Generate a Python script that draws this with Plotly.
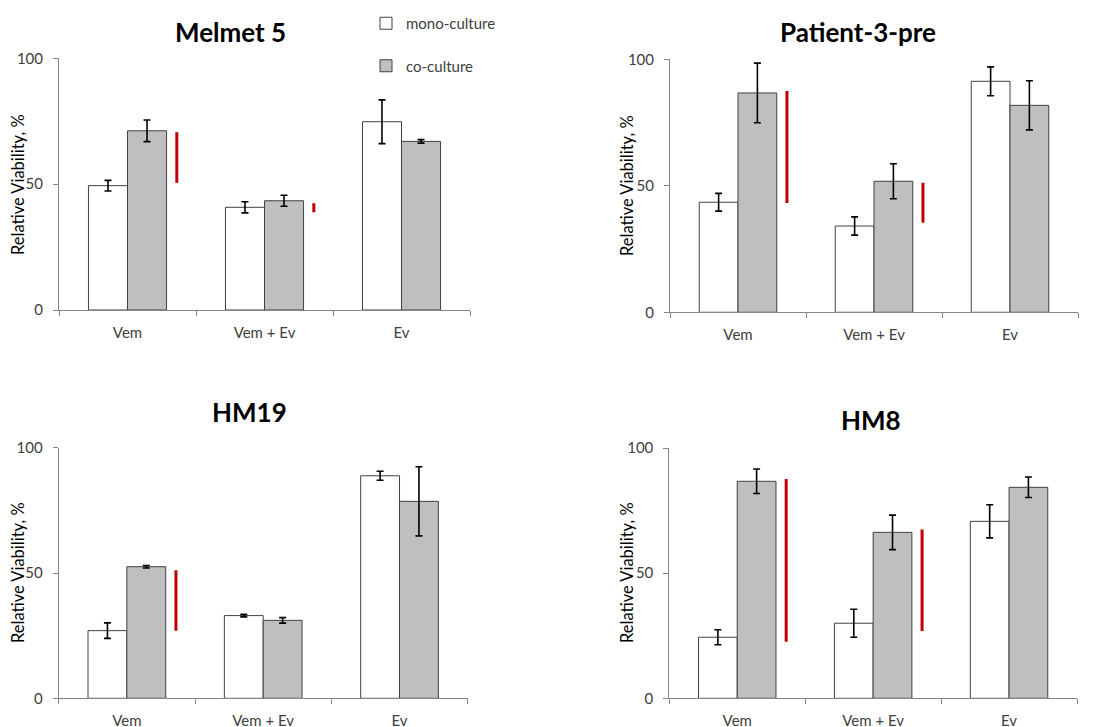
import plotly.graph_objects as go

# Treatments on the x axis
treatments = ["Vem", "Vem + Ev", "Ev"]

# Cell lines, one panel each
panel_titles = ["Melmet 5", "Patient-3-pre", "HM19", "HM8"]

# Relative viability (%) and error (±) per treatment
melmet5_mono = [49.4, 40.8, 74.8]
melmet5_mono_err = [2.1, 2.2, 8.7]
melmet5_co = [71.2, 43.4, 67.0]
melmet5_co_err = [4.3, 2.2, 0.7]
melmet5_shift = [(50.6, 70.6), (38.8, 42.4), None]

patient3_mono = [43.5, 34.1, 91.3]
patient3_mono_err = [3.5, 3.6, 5.7]
patient3_co = [86.7, 51.8, 81.8]
patient3_co_err = [11.8, 6.9, 9.7]
patient3_shift = [(43.2, 87.5), (35.4, 51.2), None]

hm19_mono = [27.0, 33.0, 88.8]
hm19_mono_err = [3.1, 0.5, 1.8]
hm19_co = [52.5, 31.1, 78.6]
hm19_co_err = [0.5, 1.1, 13.8]
hm19_shift = [(27.0, 51.1), None, None]

hm8_mono = [24.4, 30.0, 70.7]
hm8_mono_err = [3.0, 5.6, 6.6]
hm8_co = [86.7, 66.3, 84.3]
hm8_co_err = [4.9, 6.9, 4.1]
hm8_shift = [(22.6, 87.6), (26.9, 67.4), None]

panels = [
    (melmet5_mono, melmet5_mono_err, melmet5_co, melmet5_co_err, melmet5_shift),
    (patient3_mono, patient3_mono_err, patient3_co, patient3_co_err, patient3_shift),
    (hm19_mono, hm19_mono_err, hm19_co, hm19_co_err, hm19_shift),
    (hm8_mono, hm8_mono_err, hm8_co, hm8_co_err, hm8_shift),
]

W, H = 1094, 727


def fx(px):
    return px / W


def fy(py):
    return 1 - py / H


# Plot-area boxes in pixels: (left, right, top, bottom)
boxes = [
    (59, 470, 58.3, 310),
    (670, 1078, 59.3, 312.3),
    (58.7, 467.7, 447.7, 698.3),
    (669.3, 1077, 448, 698.3),
]
title_pos = [(230, 32), (858, 32), (249, 412), (871, 420)]
ytitle_pos = [(18, 185), (627, 186), (18, 573), (627, 573)]

AXIS_GREY = "#868686"
TEXT_GREY = "#404040"
FONT = "Lato"

fig = go.Figure()
x_idx = [0, 1, 2]
shift_dx = 0.36

for k, (mono, mono_err, co, co_err, shift) in enumerate(panels):
    ax = "" if k == 0 else str(k + 1)
    xa, ya = "x" + ax, "y" + ax
    show = k == 0
    fig.add_trace(go.Bar(
        x=x_idx, y=mono, name="mono-culture", xaxis=xa, yaxis=ya,
        marker=dict(color="white", line=dict(color=TEXT_GREY, width=1)),
        error_y=dict(type="data", array=mono_err, color="black", thickness=1.6, width=3.5),
        showlegend=show, legendgroup="mono", offsetgroup="mono",
    ))
    fig.add_trace(go.Bar(
        x=x_idx, y=co, name="co-culture", xaxis=xa, yaxis=ya,
        marker=dict(color="#BFBFBF", line=dict(color=TEXT_GREY, width=1)),
        error_y=dict(type="data", array=co_err, color="black", thickness=1.6, width=3.5),
        showlegend=show, legendgroup="co", offsetgroup="co",
    ))
    # red markers showing the shift between culture conditions
    sx, sy = [], []
    for i, span in enumerate(shift):
        if span is None:
            continue
        sx += [i + shift_dx, i + shift_dx, None]
        sy += [span[0], span[1], None]
    if sx:
        fig.add_trace(go.Scatter(
            x=sx, y=sy, mode="lines", xaxis=xa, yaxis=ya,
            line=dict(color="#C00000", width=3), showlegend=False, hoverinfo="skip",
        ))

    l, r, t, b = boxes[k]
    fig.layout["xaxis" + ax] = dict(
        domain=[fx(l), fx(r)], anchor=ya, range=[-0.5, 2.5],
        tickmode="array", tickvals=x_idx, ticktext=treatments, ticks="",
        ticklabelstandoff=9,
        minor=dict(tickmode="array", tickvals=[-0.5, 0.5, 1.5, 2.5], ticks="outside",
                   ticklen=5, tickcolor=AXIS_GREY, tickwidth=1, showgrid=False),
        showline=True, linecolor=AXIS_GREY, linewidth=1,
        showgrid=False, zeroline=False, automargin=False,
        tickfont=dict(family=FONT, size=15, color=TEXT_GREY),
    )
    fig.layout["yaxis" + ax] = dict(
        domain=[fy(b), fy(t)], anchor=xa, range=[0, 100],
        tickmode="array", tickvals=[0, 50, 100], ticks="outside", ticklen=5,
        tickcolor=AXIS_GREY, tickwidth=1, ticklabelstandoff=7,
        showline=True, linecolor=AXIS_GREY, linewidth=1,
        showgrid=False, zeroline=False, automargin=False,
        tickfont=dict(family=FONT, size=15, color=TEXT_GREY),
    )

    tx, ty = title_pos[k]
    fig.add_annotation(
        text="<b>" + panel_titles[k] + "</b>", x=fx(tx), y=fy(ty), xref="paper", yref="paper",
        xanchor="center", yanchor="middle", showarrow=False,
        font=dict(family=FONT, size=26, color="black"),
    )
    yx, yy = ytitle_pos[k]
    fig.add_annotation(
        text="Relative Viability, %", x=fx(yx), y=fy(yy), xref="paper", yref="paper",
        xanchor="center", yanchor="middle", textangle=-90, showarrow=False,
        font=dict(family=FONT, size=16.5, color="black"),
    )

fig.update_layout(
    width=W, height=H,
    margin=dict(l=0, r=0, t=0, b=0),
    paper_bgcolor="white", plot_bgcolor="white",
    barmode="group", bargap=0.43, bargroupgap=0,
    font=dict(family=FONT, color=TEXT_GREY),
    legend=dict(
        x=fx(366), y=fy(7), xanchor="left", yanchor="top",
        orientation="v", tracegroupgap=20, itemwidth=30,
        font=dict(family=FONT, size=15, color=TEXT_GREY),
        bgcolor="rgba(0,0,0,0)",
    ),
    showlegend=True,
)

fig.write_html("out.html")
